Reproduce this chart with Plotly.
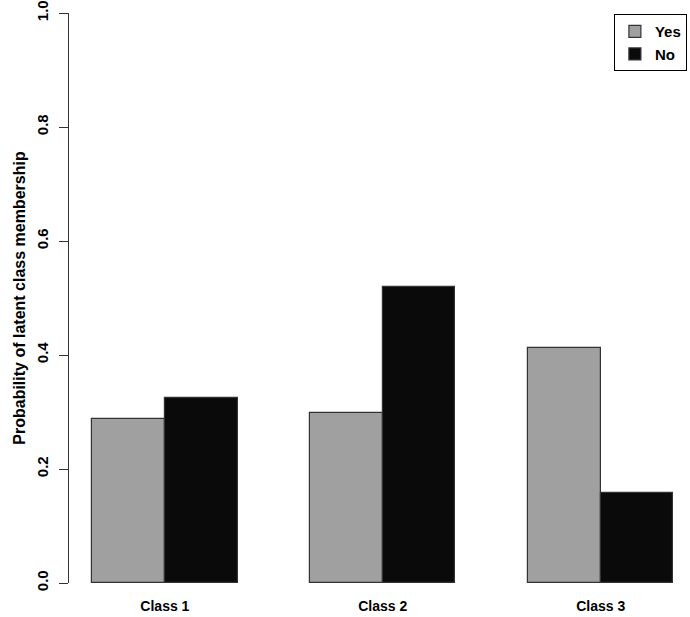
import plotly.graph_objects as go

categories = ["Class 1", "Class 2", "Class 3"]
series_names = ["Yes", "No"]
yes_values = [0.287, 0.299, 0.413]
no_values = [0.325, 0.519, 0.158]
y_ticks = [0.0, 0.2, 0.4, 0.6, 0.8, 1.0]
y_tick_labels = ["0.0", "0.2", "0.4", "0.6", "0.8", "1.0"]

# R barplot(beside=TRUE) layout: bars of width 1, one unit gap between groups
yes_pos = [1.5 + 3 * i for i in range(len(categories))]
no_pos = [2.5 + 3 * i for i in range(len(categories))]
group_centers = [2 + 3 * i for i in range(len(categories))]

FONT = "Liberation Sans, Arial, sans-serif"

fig = go.Figure()
fig.add_trace(go.Bar(x=yes_pos, y=yes_values, width=1, name=series_names[0],
                     marker=dict(color="#a0a0a0", line=dict(color="#333333", width=1.2))))
fig.add_trace(go.Bar(x=no_pos, y=no_values, width=1, name=series_names[1],
                     marker=dict(color="#0a0a0a", line=dict(color="#333333", width=1.2))))

W, H = 690, 617
fig.update_layout(
    width=W, height=H,
    margin=dict(l=69, r=0, t=11, b=34, pad=0),
    paper_bgcolor="white", plot_bgcolor="white",
    font=dict(family=FONT, color="black"),
    bargap=0,
    legend=dict(
        x=0.995, y=0.998, xanchor="right", yanchor="top",
        bordercolor="black", borderwidth=1, bgcolor="white",
        font=dict(size=15, family=FONT, weight="bold"),
        itemwidth=30, tracegroupgap=0,
    ),
    xaxis=dict(
        range=[0.68, 9.23], showgrid=False, zeroline=False, showline=False,
        tickmode="array", tickvals=group_centers, ticktext=categories,
        ticks="", tickfont=dict(size=14, weight="bold"), ticklabelstandoff=13,
    ),
    yaxis=dict(
        range=[0, 1.0], showgrid=False, zeroline=False,
        showline=True, linecolor="#333333", linewidth=1.2,
        ticks="outside", ticklen=9, tickwidth=1.2, tickcolor="#333333",
        tickmode="array", tickvals=y_ticks, ticktext=y_tick_labels,
        tickangle=-90, tickfont=dict(size=15, weight="bold"),
        ticklabelstandoff=5, ticklabeloverflow="allow",
        title=dict(text="Probability of latent class membership",
                   font=dict(size=16, weight="bold"), standoff=4),
    ),
)

fig.write_html("out.html", config={"displayModeBar": False},
               post_script="document.body.style.margin='0';document.body.style.overflow='hidden';")
